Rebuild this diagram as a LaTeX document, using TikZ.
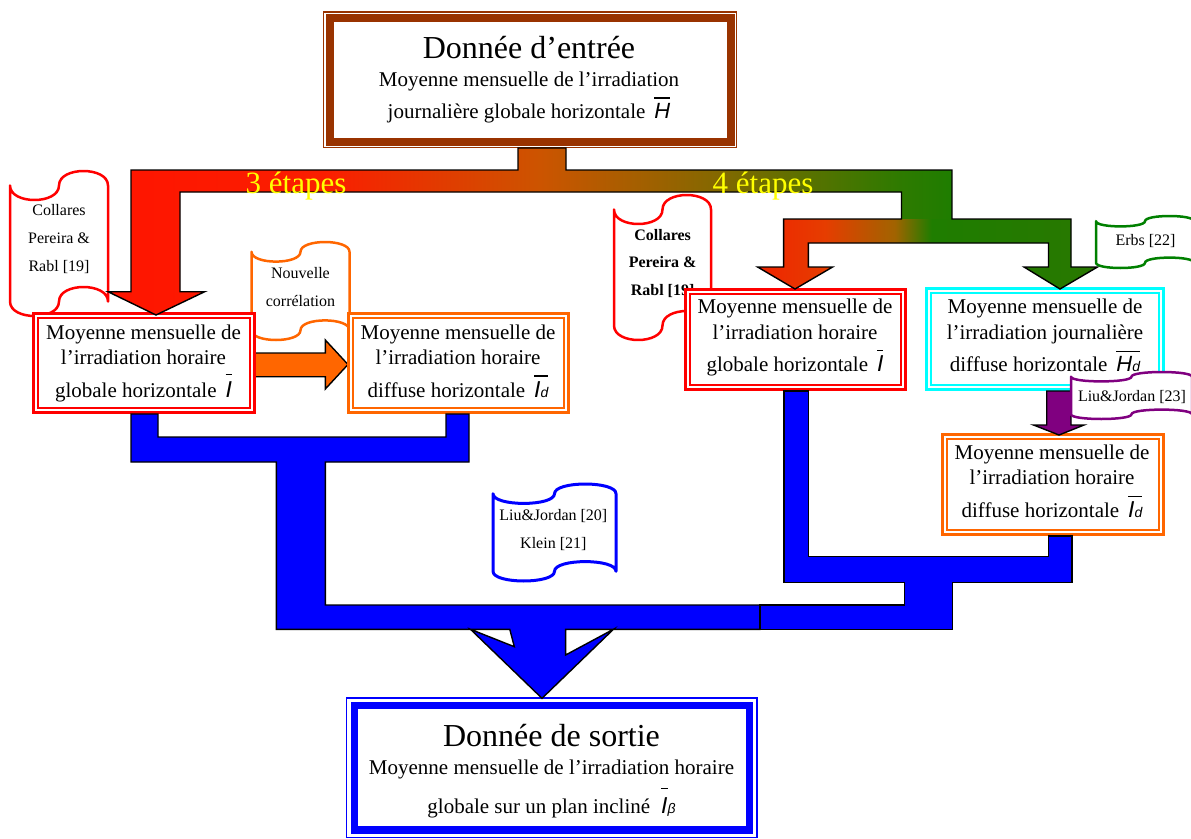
\documentclass[tikz,border=0pt]{standalone}
\usepackage{fontspec}
\setmainfont{Liberation Serif}
\newfontfamily\sanf{Liberation Sans}
\definecolor{brownA}{RGB}{153,51,0}
\definecolor{redA}{RGB}{255,0,0}
\definecolor{orangeA}{RGB}{255,102,0}
\definecolor{cyanA}{RGB}{0,255,255}
\definecolor{blueA}{RGB}{0,0,255}
\definecolor{purpleA}{RGB}{128,0,128}
\definecolor{greenA}{RGB}{0,128,0}
\definecolor{yellowA}{RGB}{255,255,0}
\pgfdeclarehorizontalshading{topgrad}{100bp}{rgb(0bp)=(1,0.08,0); rgb(25bp)=(1,0.08,0); rgb(38bp)=(0.98,0.12,0); rgb(50.6bp)=(0.8,0.33,0); rgb(61.3bp)=(0.51,0.41,0); rgb(71.9bp)=(0.18,0.48,0); rgb(75bp)=(0.12,0.49,0); rgb(100bp)=(0.12,0.49,0)}
\pgfdeclarehorizontalshading{splitgrad}{100bp}{rgb(0bp)=(0.94,0.14,0); rgb(25bp)=(0.94,0.14,0); rgb(35bp)=(0.9,0.24,0); rgb(45.2bp)=(0.63,0.39,0); rgb(50.6bp)=(0.12,0.49,0); rgb(75bp)=(0.16,0.47,0); rgb(100bp)=(0.16,0.47,0)}
% punched-tape callout: [style]{x0}{y0}{w}{h}, y downwards
\newcommand\tape[5][]{%
  \pgfmathsetmacro\tXa{#2}\pgfmathsetmacro\tXb{#2+#4/2}\pgfmathsetmacro\tXc{#2+#4}%
  \pgfmathsetmacro\tYa{#3+0.1*#5}\pgfmathsetmacro\tYb{#3+0.9*#5}%
  \pgfmathsetmacro\tYaD{\tYa+0.1333*#5}\pgfmathsetmacro\tYaU{\tYa-0.1333*#5}%
  \pgfmathsetmacro\tYbD{\tYb+0.1333*#5}\pgfmathsetmacro\tYbU{\tYb-0.1333*#5}%
  \draw[#1] (\tXa,\tYa) .. controls (\tXa,\tYaD) and (\tXb,\tYaD) .. (\tXb,\tYa)
    .. controls (\tXb,\tYaU) and (\tXc,\tYaU) .. (\tXc,\tYa)
    -- (\tXc,\tYb) .. controls (\tXc,\tYbU) and (\tXb,\tYbU) .. (\tXb,\tYb)
    .. controls (\tXb,\tYbD) and (\tXa,\tYbD) .. (\tXa,\tYb) -- cycle;}
\newcommand\bsym[2]{\setbox0=\hbox{#2}\rlap{\rule[#1]{\wd0}{1.2pt}}\box0}
\newcommand\Ibar[1]{\bsym{#1}{\sanf\itshape\fontsize{23}{23}\selectfont I}}
\newcommand\Idbar[1]{\bsym{#1}{\sanf\itshape\fontsize{23}{23}\selectfont I\fontsize{14}{14}\selectfont d}}
\newcommand\Hdbar[1]{\bsym{#1}{\sanf\itshape\fontsize{22}{22}\selectfont H\fontsize{14}{14}\selectfont d}}
\newcommand\Hbar[1]{\bsym{#1}{\sanf\itshape\fontsize{22}{22}\selectfont H}}
\begin{document}
\begin{tikzpicture}[x=1pt,y=-1pt,line join=miter,
  dbox/.style={draw=#1, line width=3pt, fill=white, inner sep=0pt, outer sep=0pt,
    path picture={\draw[#1, line width=2pt] ([shift={(4.5pt,-4.5pt)}]path picture bounding box.north west) rectangle ([shift={(-4.5pt,4.5pt)}]path picture bounding box.south east);}},
  bigbox/.style={draw=#1, fill=white, inner sep=0pt, outer sep=0pt},
  txt/.style={anchor=base, inner sep=0pt, font=\fontsize{21}{25}\selectfont},
  ctxt/.style={anchor=base, inner sep=0pt, font=\fontsize{16}{19}\selectfont},
  blk/.style={draw=black, line width=1.4pt},
  callout/.style={draw=#1, line width=2.5pt, fill=white, line join=round},
  ylab/.style={anchor=base, inner sep=0pt, text=yellowA, font=\fontsize{31}{34}\selectfont}]
\useasboundingbox (0,0) rectangle (1191,838);
\fill[white] (0,0) rectangle (1191,838);

% callouts beneath the boxes
\tape[callout=redA]{10}{171}{98}{145}
\node[ctxt] (c1a) at (59,215) {Collares};
\node[ctxt] (c1b) at (59,243.3) {Pereira \&};
\node[ctxt] (c1c) at (59,271.7) {Rabl [19]};
\tape[callout=orangeA]{251.5}{242}{98}{98}
\node[ctxt] (c2a) at (300.5,278.3) {Nouvelle};
\node[ctxt] (c2b) at (300.5,306) {corrélation};
\tape[callout=redA]{614}{195}{97}{145}
\node[ctxt, font=\fontsize{16}{19}\selectfont\bfseries] (c3a) at (662.6,240) {Collares};
\node[ctxt, font=\fontsize{16}{19}\selectfont\bfseries] (c3b) at (662.6,267.3) {Pereira \&};
\node[ctxt, font=\fontsize{16}{19}\selectfont\bfseries] (c3c) at (662.6,295) {Rabl [19]};
\tape[callout=blueA, line width=3pt]{493}{484}{123}{97}
\node[ctxt] (c4a) at (553.3,520) {Liu\&Jordan [20]};
\node[ctxt] (c4b) at (553.3,548.3) {Klein [21]};

% orange arrow (under the boxes)
\path[blk, fill=orangeA] (254,353) -- (325.3,353) -- (325.3,340) -- (348,364.5) -- (325.3,389) -- (325.3,376.7) -- (254,376.7) -- cycle;

% input box
\node[bigbox=brownA, line width=8pt, minimum width=401pt, minimum height=123.5pt] (inbox) at (530,79.75) {};
\draw[brownA, line width=1.2pt] ([shift={(-6pt,6pt)}]inbox.north west) rectangle ([shift={(6pt,-6pt)}]inbox.south east);
\node[txt, font=\fontsize{32}{36}\selectfont] (in1) at (529,58.5) {Donnée d’entrée};
\node[txt] (in2) at (529,86) {Moyenne mensuelle de l’irradiation};
\node[txt] (in3) at (529,118.5) {journalière globale horizontale\hspace{9pt}\Hbar{20pt}};

% boxes
\node[dbox=redA, minimum width=221pt, minimum height=99pt] (gI) at (144,363) {};
\node[txt] (g1a) at (143.5,339) {Moyenne mensuelle de};
\node[txt] (g1b) at (143.5,364) {l’irradiation horaire};
\node[txt] (g1c) at (143.5,397) {globale horizontale\hspace{9pt}\Ibar{22pt}};

\node[dbox=orangeA, minimum width=220.5pt, minimum height=99pt] (dI) at (458.25,363) {};
\node[txt] (d1a) at (458,339) {Moyenne mensuelle de};
\node[txt] (d1b) at (458,364) {l’irradiation horaire};
\node[txt] (d1c) at (458,397) {diffuse horizontale\hspace{9pt}\Idbar{20.5pt}};

\node[dbox=redA, minimum width=220pt, minimum height=100pt] (gI2) at (795.5,339.5) {};
\node[txt] (g2a) at (795,313) {Moyenne mensuelle de};
\node[txt] (g2b) at (795,339.5) {l’irradiation horaire};
\node[txt] (g2c) at (795,371) {globale horizontale\hspace{9pt}\Ibar{20pt}};

\node[dbox=cyanA, minimum width=237pt, minimum height=101pt] (dH) at (1045,339) {};
\node[txt] (h1a) at (1045,313) {Moyenne mensuelle de};
\node[txt] (h1b) at (1045,339.5) {l’irradiation journalière};
\node[txt] (h1c) at (1045,371) {diffuse horizontale\hspace{9pt}\Hdbar{19pt}};

\node[dbox=orangeA, minimum width=221pt, minimum height=100pt] (dI2) at (1053,484.5) {};
\node[txt] (d2a) at (1052,459) {Moyenne mensuelle de};
\node[txt] (d2b) at (1052,484.5) {l’irradiation horaire};
\node[txt] (d2c) at (1052,517.5) {diffuse horizontale\hspace{9pt}\Idbar{20.5pt}};

% output box
\node[bigbox=blueA, line width=7.6pt, minimum width=395.2pt, minimum height=124.5pt] (outbox) at (551.9,767.75) {};
\draw[blueA, line width=1.3pt] ([shift={(-7.5pt,7.5pt)}]outbox.north west) rectangle ([shift={(7.5pt,-7.5pt)}]outbox.south east);
\node[txt, font=\fontsize{32}{36}\selectfont] (out1) at (551.5,746) {Donnée de sortie};
\node[txt] (out2) at (551.5,774.5) {Moyenne mensuelle de l’irradiation horaire};
\node[txt] (out3) at (551.5,813) {globale sur un plan incliné\hspace{11pt}\Ibar{24pt}{\sanf\itshape\fontsize{14}{14}\selectfont β}};

% gradient split arrows
\shade[shading=topgrad] (518,148) -- (566,148) -- (566,170) -- (952,170) -- (952,219) -- (901.5,219) -- (901.5,192) -- (180,192) -- (180,291.7) -- (204.7,291.7) -- (156,315) -- (108,291.7) -- (131,291.7) -- (131,170) -- (518,170) -- cycle;
\shade[shading=splitgrad] (783.6,219) -- (1071,219) -- (1071,267) -- (1097.5,267) -- (1060,289) -- (1024,267) -- (1048.5,267) -- (1048.5,243) -- (808.4,243) -- (808.4,267) -- (832.6,267) -- (795,289) -- (757.6,267) -- (783.6,267) -- cycle;
\draw[blk] (518,148) -- (566,148) -- (566,170) -- (952,170) -- (952,219) -- (1071,219) -- (1071,267) -- (1097.5,267) -- (1060,289) -- (1024,267) -- (1048.5,267) -- (1048.5,243) -- (808.4,243) -- (808.4,267) -- (832.6,267) -- (795,289) -- (757.6,267) -- (783.6,267) -- (783.6,219) -- (901.5,219) -- (901.5,192) -- (180,192) -- (180,291.7) -- (204.7,291.7) -- (156,315) -- (108,291.7) -- (131,291.7) -- (131,170) -- (518,170) -- cycle;
\node[ylab] (st3) at (296,193.5) {3 étapes};
\node[ylab] (st4) at (763,193) {4 étapes};

% blue merging arrows
\path[blk, fill=blueA] (131,414) -- (158,414) -- (158,437) -- (446,437) -- (446,414) -- (469,414) -- (469,462) -- (325.4,462) -- (325.4,605) -- (760,605) -- (760,629.3) -- (565.6,629.3) -- (565.6,655) -- (613.4,629.3) -- (542,698.3) -- (470.5,629.3) -- (514.3,646.7) -- (509.8,629.3) -- (276.3,629.3) -- (276.3,462) -- (131,462) -- cycle;
\path[blk, fill=blueA] (784,391) -- (808.4,391) -- (808.4,556.7) -- (1048.5,556.7) -- (1048.5,536) -- (1072,536) -- (1072,582.3) -- (952.4,582.3) -- (952.4,629.3) -- (760,629.3) -- (760,605) -- (904.6,605) -- (904.6,582.3) -- (784,582.3) -- cycle;

% purple arrow
\path[blk, fill=purpleA] (1046.7,391) -- (1071,391) -- (1071,425) -- (1084,425) -- (1059,435) -- (1033.5,425) -- (1046.7,425) -- cycle;

% callouts over the boxes
\tape[callout=purpleA]{1071}{372}{121}{47}
\node[ctxt] (c5) at (1132,401.7) {Liu\&Jordan [23]};
\tape[callout=greenA]{1096}{216}{98}{52}
\node[ctxt] (c6) at (1145.5,245) {Erbs [22]};
\end{tikzpicture}
\end{document}
